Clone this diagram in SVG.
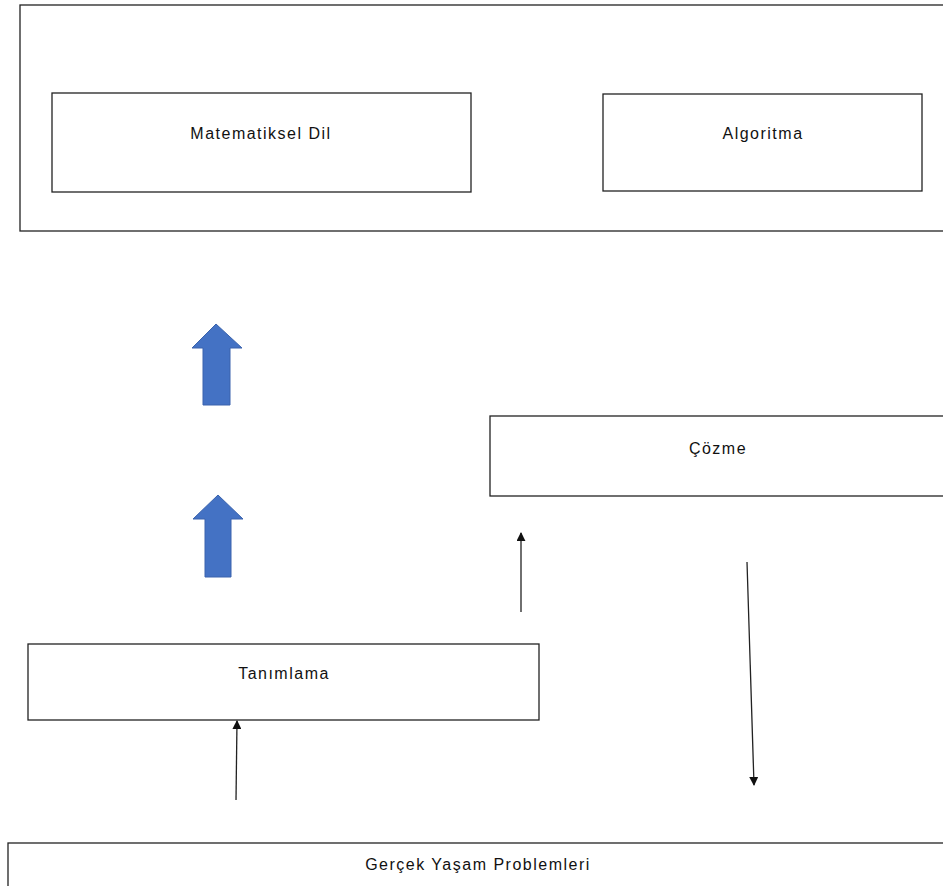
<svg xmlns="http://www.w3.org/2000/svg" width="943" height="886" viewBox="0 0 943 886">
<defs>
<style>
.box{fill:#fff;stroke:#222;stroke-width:1.3}
.lbl{font-family:"Liberation Sans","DejaVu Sans",sans-serif;font-size:16px;letter-spacing:1.5px;fill:#111;text-anchor:middle}
.thin{stroke:#222;stroke-width:1.3;fill:none}
.big{fill:#4472C4;stroke:#3A63AD;stroke-width:1}
</style>
<marker id="ah" viewBox="0 0 10 10" refX="9" refY="5" markerWidth="9" markerHeight="9" markerUnits="userSpaceOnUse" orient="auto">
<path d="M0,0 L10,5 L0,10 z" fill="#111"/>
</marker>
</defs>
<rect width="943" height="886" fill="#fff"/>
<g id="outer"><rect class="box" x="20" y="5" width="930" height="226"/></g>
<g id="matematiksel"><rect class="box" x="52" y="93" width="419" height="99"/><text class="lbl" x="261" y="139">Matematiksel Dil</text></g>
<g id="algoritma"><rect class="box" x="603" y="94" width="319" height="97"/><text class="lbl" x="763" y="139">Algoritma</text></g>
<g id="cozme"><rect class="box" x="490" y="416" width="460" height="80"/><text class="lbl" x="718" y="454">Çözme</text></g>
<g id="tanimlama"><rect class="box" x="28" y="644" width="511" height="76"/><text class="lbl" x="284" y="679">Tanımlama</text></g>
<g id="gercek"><rect class="box" x="8" y="843" width="950" height="60"/><text class="lbl" x="478" y="870">Gerçek Yaşam Problemleri</text></g>
<g id="connectors">
<path class="big" d="M216,324 L242,348 L230,348 L230,405 L203,405 L203,348 L192,348 Z"/>
<path class="big" d="M218,495 L243,519 L231,519 L231,577 L205,577 L205,519 L193,519 Z"/>
<line class="thin" x1="521" y1="612" x2="521" y2="533" marker-end="url(#ah)"/>
<line class="thin" x1="747" y1="562" x2="754" y2="785" marker-end="url(#ah)"/>
<line class="thin" x1="236" y1="800" x2="237" y2="721" marker-end="url(#ah)"/>
</g>
</svg>
